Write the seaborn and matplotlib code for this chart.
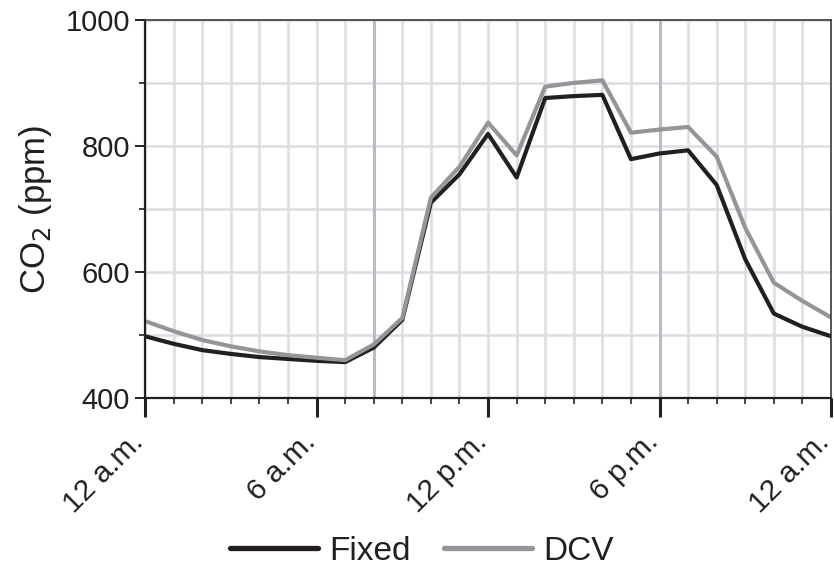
import pandas as pd
import matplotlib.pyplot as plt
import seaborn as sns
from matplotlib.ticker import MultipleLocator

# Hourly CO2 readings over one day (hour 0 = 12 a.m.)
hours = list(range(0, 25))
fixed = [498, 486, 476, 470, 465, 462, 459, 457, 480, 524, 710, 755, 819,
         750, 876, 879, 881, 779, 788, 793, 738, 620, 534, 513, 498]
dcv = [522, 506, 492, 482, 474, 468, 464, 460, 485, 527, 718, 767, 837,
       785, 894, 900, 904, 821, 826, 830, 783, 670, 583, 554, 528]

tick_hours = [0, 6, 12, 18, 24]
tick_labels = ['12 a.m.', '6 a.m.', '12 p.m.', '6 p.m.', '12 a.m.']
highlight_hours = [8, 18]

df = pd.DataFrame({
    'hour': hours * 2,
    'co2': fixed + dcv,
    'mode': ['Fixed'] * len(hours) + ['DCV'] * len(hours),
})

sns.set_style('white')
plt.rcParams['font.family'] = ['Liberation Sans', 'DejaVu Sans']
text_color = '#231f20'

fig, ax = plt.subplots(figsize=(8.34, 5.67), dpi=100)
fig.subplots_adjust(left=0.174, right=0.9964, top=0.965, bottom=0.298)

# grid first so lines sit on top
ax.set_xlim(0, 24)
ax.set_ylim(400, 1000)
ax.xaxis.set_major_locator(plt.FixedLocator(tick_hours))
ax.xaxis.set_minor_locator(MultipleLocator(1))
ax.yaxis.set_major_locator(MultipleLocator(200))
ax.yaxis.set_minor_locator(MultipleLocator(100))
ax.grid(True, which='both', color='#dcdde2', linewidth=1.8)
ax.set_axisbelow(True)
for h in highlight_hours:
    ax.axvline(h, color='#b9bcc3', linewidth=2.2, zorder=0.6)

sns.lineplot(data=df, x='hour', y='co2', hue='mode',
             palette={'Fixed': '#231f20', 'DCV': '#939598'},
             hue_order=['Fixed', 'DCV'], linewidth=3, ax=ax)

ax.set_xticklabels(tick_labels, rotation=45, ha='right', va='baseline',
                   rotation_mode='anchor', fontsize=21.5, color=text_color)
ax.tick_params(axis='y', labelsize=21, labelcolor=text_color)
ax.tick_params(axis='both', which='major', direction='out', color=text_color)
ax.tick_params(axis='x', which='major', length=13.5, width=2.2, pad=19)
ax.tick_params(axis='x', which='minor', length=4.5, width=1.2, color=text_color)
ax.tick_params(axis='y', which='major', length=7, width=1.4, pad=4)
ax.tick_params(axis='y', which='minor', length=4, width=1.2, color=text_color)
ax.tick_params(axis='x', which='both', bottom=True)
ax.tick_params(axis='y', which='both', left=True)

ax.set_xlabel('')
ax.set_ylabel('CO$_2$ (ppm)', fontsize=25, color=text_color, labelpad=8)

for side in ['left', 'bottom']:
    ax.spines[side].set_linewidth(1.6)
    ax.spines[side].set_color(text_color)
for side in ['top', 'right']:
    ax.spines[side].set_linewidth(1.2)
    ax.spines[side].set_color('#3a3a3a')

handles, labels = ax.get_legend_handles_labels()
ax.legend_.remove()
for hdl in handles:
    hdl.set_linewidth(3.8)
fig.legend(handles, labels, loc='center', bbox_to_anchor=(0.506, 0.028),
           ncol=2, frameon=False, fontsize=24, handlelength=2.64,
           handletextpad=0.33, columnspacing=1.0, labelcolor=text_color)

plt.savefig('out.png', dpi=100)
